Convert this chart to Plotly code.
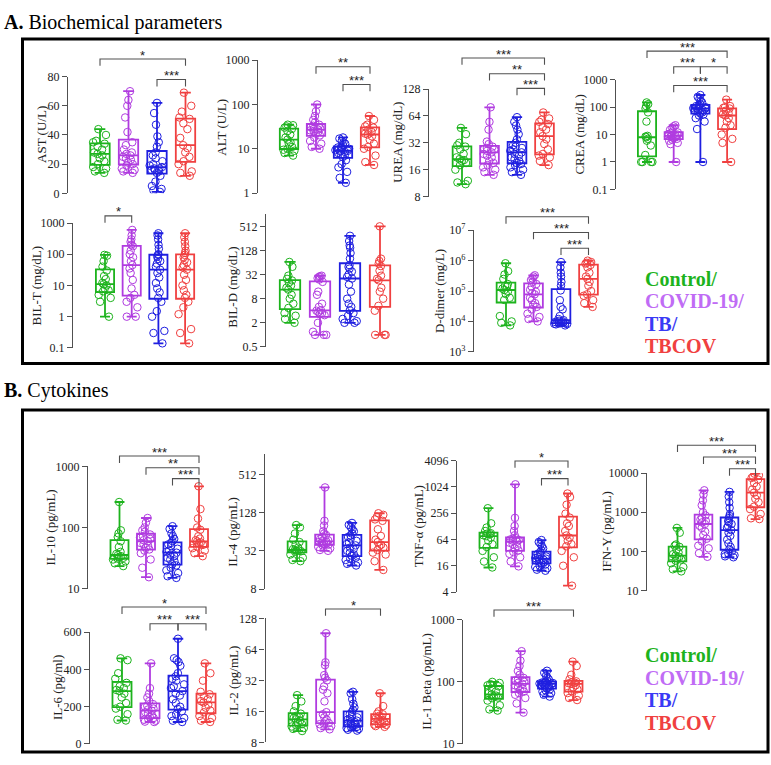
import plotly.graph_objects as go
import math

W, H = 771, 765
GROUPS = ["Control", "COVID-19", "TB", "TBCOV"]
BOX_COLORS = ["#1DB31D", "#B03BE0", "#1F1FE0", "#F04040"]
LEGEND_COLORS = ["#1DB31D", "#C06CF5", "#3A3AF5", "#F04040"]
SERIF = "Liberation Serif"

# ---------------- data ----------------
AST_CONTROL = [14, 15, 17, 18, 20, 22, 24, 26, 27, 28, 30, 32, 34, 35, 36, 40, 44]
AST_COVID = [14, 15, 16, 17, 19, 20, 21, 23, 24, 25, 26, 27, 28, 30, 33, 35, 42, 52, 60, 64, 70]
AST_TB = [1, 2, 3, 5, 8, 12, 14, 15, 16, 16, 17, 17, 18, 19, 20, 22, 24, 26, 28, 32, 35, 39, 47, 55, 62]
AST_TBCOV = [12, 14, 15, 20, 22, 25, 28, 31, 33, 38, 44, 48, 51, 52, 56, 60, 69]

ALT_CONTROL = [7, 8, 9, 9.5, 10, 11, 13, 14, 16, 18, 21, 25, 28, 30, 32, 34, 35]
ALT_COVID = [10, 11, 13, 15, 18, 20, 22, 24, 25, 26, 27, 28, 29, 31, 33, 35, 40, 45, 55, 70, 100]
ALT_TB = [1.7, 2.2, 3, 3.8, 4.5, 5.5, 6.5, 7, 7.5, 8, 8.5, 8.8, 9, 9.3, 9.6, 10, 10.3, 10.7, 11, 12, 13, 14, 15, 17, 18]
ALT_TBCOV = [4.3, 5, 7, 10, 11, 13, 16, 19, 21, 22, 24, 27, 30, 32, 35, 45, 55]

UREA_CONTROL = [11, 11.5, 12, 16, 18, 19, 20, 20.5, 21, 22, 24, 27, 29, 30, 32, 40, 47]
UREA_COVID = [14, 15, 16, 17, 18, 19, 20, 22, 23, 24, 25, 26, 27, 27.5, 28, 29, 31, 33, 45, 55, 80]
UREA_TB = [14, 15, 16, 17, 18, 18.5, 19, 20, 21, 22, 23, 24, 25, 26, 27, 28, 29, 30, 32, 35, 40, 45, 50, 55, 62]
UREA_TBCOV = [18, 20, 22, 23, 24, 27, 31, 35, 38, 42, 45, 48, 52, 55, 58, 60, 70]

CREA_CONTROL = [1, 1, 1, 1, 1.8, 4, 6, 7, 8, 8.5, 9, 30, 65, 90, 110, 130, 150]
CREA_COVID = [1, 4.5, 5, 6, 6.5, 7, 7.5, 8, 8.5, 8.8, 9, 9.5, 10, 10.5, 11, 12, 13, 15, 17, 20, 22]
CREA_TB = [1, 16, 30, 40, 50, 55, 60, 65, 70, 75, 80, 85, 90, 92, 95, 100, 105, 110, 120, 130, 150, 170, 200, 240, 280]
CREA_TBCOV = [1, 5, 7, 10, 18, 22, 30, 40, 50, 55, 60, 75, 90, 95, 100, 110, 190]

BILT_CONTROL = [1, 3, 4, 5, 6.5, 7, 8, 10, 11, 12, 16, 20, 30, 40, 60, 90, 95]
BILT_COVID = [1, 1, 2, 3, 4, 5, 8, 15, 25, 35, 45, 60, 80, 100, 130, 180, 200, 250, 300, 400, 600]
BILT_TB = [0.14, 0.3, 0.35, 1, 1.5, 3, 4, 6, 8, 12, 18, 25, 32, 40, 50, 60, 70, 85, 95, 100, 150, 200, 300, 400, 470]
BILT_TBCOV = [0.14, 0.3, 0.4, 1.2, 2, 3, 4, 5, 7, 10, 15, 22, 32, 38, 45, 55, 65, 80, 95, 110, 130, 180, 250, 350, 470]

BILD_CONTROL = [2, 2.5, 3, 3.5, 4.7, 6, 8, 10, 13.5, 15, 17, 20, 22.8, 25, 30, 50, 66]
BILD_COVID = [1, 1, 1, 1.2, 2, 3.1, 3.3, 3.5, 3.7, 4, 4.1, 5, 6, 10, 12, 21, 24, 26, 28, 29, 30]
BILD_TB = [2, 2, 2.2, 2.5, 3, 3.5, 4.1, 5, 6, 8, 12, 18, 25.5, 28, 32, 38, 45, 50, 55, 80, 110, 150, 170, 220, 297]
BILD_TBCOV = [1, 1, 1, 4, 5.3, 8, 12, 15, 23, 25, 30, 40, 52, 60, 70, 80, 512]

DDIMER_CONTROL = [7400, 9000, 10000, 15000, 51000, 60000, 80000, 95000, 108000, 120000, 140000, 150000, 170000, 250000, 350000, 450000, 820000]
DDIMER_COVID = [10000, 12000, 14000, 18000, 25000, 30000, 35000, 40000, 50000, 60000, 78000, 85000, 95000, 110000, 140000, 170000, 200000, 230000, 260000, 300000, 330000]
DDIMER_TB = [7400, 8000, 8200, 8400, 8600, 8700, 8800, 9000, 9300, 9600, 10000, 10500, 11000, 12000, 15000, 25000, 30000, 50000, 105000, 150000, 200000, 300000, 400000, 600000, 900000]
DDIMER_TBCOV = [30000, 40000, 50000, 70000, 78000, 100000, 150000, 200000, 250000, 300000, 400000, 600000, 720000, 800000, 850000, 900000, 1000000]

IL10_CONTROL = [23.4, 26, 28, 30, 31, 32, 33, 34, 35.5, 37, 40, 48, 59.6, 70, 80, 90, 261]
IL10_COVID = [15.4, 22, 30, 38, 42, 43.8, 47, 50, 53, 56, 59.6, 62, 65, 68, 72, 77, 85, 90, 100, 120, 143]
IL10_TB = [15, 16, 18, 20, 22, 24, 25, 28, 30, 32, 34, 36, 38.8, 40, 42, 45, 50, 53, 56, 60, 65, 72, 80, 95, 105]
IL10_TBCOV = [34, 38, 42, 46, 49, 52, 55, 57, 59, 62, 66, 72, 92, 100, 140, 200, 472]

IL4_CONTROL = [22, 23, 25, 28, 31, 31.5, 32, 32.5, 33, 34, 36, 40, 44, 48, 60, 75, 81.5]
IL4_COVID = [32, 33, 35, 37, 39, 40, 41, 42, 43, 44, 45, 46, 47, 49, 53, 57, 60, 65, 80, 95, 319]
IL4_TB = [18.8, 20, 21, 23, 24, 25, 26.8, 28, 30, 32, 34, 36, 39, 41, 43, 46, 50, 53, 56, 60, 65, 70, 75, 82, 88]
IL4_TBCOV = [16, 22, 28, 30, 33, 36, 38, 40, 44, 48, 55, 70, 95, 100, 110, 118, 125]

TNF_CONTROL = [14.6, 20, 25, 35, 43, 50, 60, 70, 76, 80, 84, 87, 89, 100, 120, 150, 333]
TNF_COVID = [15.5, 20, 25, 30, 33, 36, 40, 45, 50, 54, 57, 60, 62, 64, 66, 68, 80, 100, 130, 200, 1176]
TNF_TB = [12.3, 13, 14, 15, 16, 17, 18.4, 19, 20, 21, 22, 22.5, 23.3, 24, 25, 26, 28, 30, 33, 36, 40, 45, 50, 56, 62]
TNF_TBCOV = [5.6, 16, 25, 35, 44.8, 50, 60, 70, 79, 100, 130, 150, 203, 250, 400, 600, 724]

IFN_CONTROL = [31, 35, 40, 50, 58, 62, 68, 72, 78, 85, 95, 110, 131, 140, 150, 300, 398]
IFN_COVID = [73, 90, 120, 140, 180, 211, 260, 320, 400, 450, 500, 550, 600, 650, 720, 826, 1000, 1500, 2000, 2800, 3620]
IFN_TB = [71, 75, 80, 85, 90, 100, 114, 130, 160, 200, 250, 300, 348, 400, 450, 500, 550, 600, 710, 800, 900, 1300, 1800, 2500, 3300]
IFN_TBCOV = [668, 700, 900, 1200, 1385, 1800, 2200, 2700, 3160, 3800, 4500, 5500, 6800, 7500, 8000, 8800, 9600]

IL6_CONTROL = [126, 130, 160, 190, 200, 220, 250, 270, 284, 290, 300, 310, 328, 350, 380, 450, 460]
IL6_COVID = [118, 120, 125, 130, 135, 140, 145, 155, 165, 170, 179, 185, 190, 200, 205, 214, 230, 250, 270, 300, 433]
IL6_TB = [118, 125, 140, 150, 160, 175, 188, 200, 220, 240, 260, 270, 284, 300, 310, 320, 340, 350, 363, 380, 420, 440, 450, 460, 565]
IL6_TBCOV = [118, 125, 140, 150, 170, 180, 195, 210, 223, 230, 240, 255, 267, 280, 340, 380, 433]

IL2_CONTROL = [10.3, 10.8, 11, 11.4, 11.7, 12, 12.5, 13, 13.4, 13.8, 14, 14.5, 15.2, 16, 18, 20, 23]
IL2_COVID = [10.7, 11, 11.5, 12, 12.2, 12.3, 12.8, 13.3, 14, 15, 15.7, 20, 24, 26, 28, 32, 34, 36, 45, 48, 92]
IL2_TB = [10.4, 10.6, 10.8, 11, 11.2, 11.3, 11.5, 11.8, 12, 12.3, 12.6, 12.8, 13, 13.3, 13.6, 14, 14.5, 15, 15.8, 16.5, 17.5, 19, 21, 24, 24.8]
IL2_TBCOV = [11.3, 11.5, 11.8, 11.9, 12, 12.5, 12.8, 13.2, 13.5, 13.8, 14, 14.5, 15, 15.2, 16, 18, 24]

IL1B_CONTROL = [34.5, 36, 42, 50, 54.6, 56, 58, 60, 63, 66, 70, 78, 85, 88, 92, 96, 100]
IL1B_COVID = [32, 45, 55, 62, 66, 69.5, 73, 78, 83, 88, 93, 97, 100, 105, 110, 116, 130, 150, 180, 220, 312]
IL1B_TB = [58, 62, 66, 70, 73, 76, 78.5, 81, 84, 86, 88, 90, 93, 94, 95, 96, 97, 98, 100, 105, 110, 118, 125, 140, 151]
IL1B_TBCOV = [51, 55, 60, 66, 71, 76, 82, 88, 93, 95, 97, 99, 102, 110, 130, 180, 212]

# tick values / labels
TICKS_AST = [0, 20, 40, 60, 80]
TICKS_DEC_1_1000 = [1, 10, 100, 1000]
TICKS_UREA = [8, 16, 32, 64, 128]
TICKS_DEC_01_1000 = [0.1, 1, 10, 100, 1000]
TICKTEXT_DEC_01_1000 = ["0.1", "1", "10", "100", "1000"]
TICKS_BILD = [0.5, 2, 8, 32, 128, 512]
TICKTEXT_BILD = ["0.5", "2", "8", "32", "128", "512"]
TICKS_DDIMER = [1e3, 1e4, 1e5, 1e6, 1e7]
TICKTEXT_DDIMER = ["10<sup>3</sup>", "10<sup>4</sup>", "10<sup>5</sup>", "10<sup>6</sup>", "10<sup>7</sup>"]
TICKS_DEC_10_1000 = [10, 100, 1000]
TICKS_IL4 = [8, 32, 128, 512]
TICKS_TNF = [4, 16, 64, 256, 1024, 4096]
TICKS_IFN = [10, 100, 1000, 10000]
TICKS_IL6 = [0, 200, 400, 600]
TICKS_IL2 = [8, 16, 32, 64, 128]

# ---------------- panel layout (pixels) ----------------
PANELS = [
    dict(d=[AST_CONTROL, AST_COVID, AST_TB, AST_TBCOV], t="AST (U/L)", log=False, tv=TICKS_AST,
         r1=(70, 80), r2=(189, 0), top=70, bot=189, ax=68, b0=100, dx=28.5, lx=42,
         br=[(0, 3, "*", 52), (2, 3, "***", 73)]),
    dict(d=[ALT_CONTROL, ALT_COVID, ALT_TB, ALT_TBCOV], t="ALT (U/L)", log=True, tv=TICKS_DEC_1_1000,
         r1=(53.3, 1000), r2=(188.7, 1), top=53.3, bot=188.7, ax=258, b0=289, dx=27, lx=222,
         br=[(1, 3, "**", 60), (2, 3, "***", 78)]),
    dict(d=[UREA_CONTROL, UREA_COVID, UREA_TB, UREA_TBCOV], t="UREA (mg/dL)", log=True, tv=TICKS_UREA,
         r1=(82.7, 128), r2=(192.3, 8), top=82.7, bot=192.3, ax=429, b0=462, dx=27.5, lx=398,
         br=[(0, 3, "***", 51), (1, 3, "**", 67), (2, 3, "***", 82)]),
    dict(d=[CREA_CONTROL, CREA_COVID, CREA_TB, CREA_TBCOV], t="CREA (mg/dL)", log=True, tv=TICKS_DEC_01_1000,
         tt=TICKTEXT_DEC_01_1000,
         r1=(73.3, 1000), r2=(185, 0.1), top=73.3, bot=185, ax=616, b0=647, dx=26.7, lx=580,
         br=[(0, 3, "***", 44), (1, 2, "***", 60), (2, 3, "*", 60), (1, 3, "***", 79)]),
    dict(d=[BILT_CONTROL, BILT_COVID, BILT_TB, BILT_TBCOV], t="BIL-T (mg/dL)", log=True, tv=TICKS_DEC_01_1000,
         tt=TICKTEXT_DEC_01_1000,
         r1=(219.3, 1000), r2=(346.7, 0.1), top=219.3, bot=346.7, ax=73, b0=105, dx=26.7, lx=36,
         br=[(0, 1, "*", 212)]),
    dict(d=[BILD_CONTROL, BILD_COVID, BILD_TB, BILD_TBCOV], t="BIL-D (mg/dL)", log=True, tv=TICKS_BILD,
         tt=TICKTEXT_BILD,
         r1=(222.7, 512), r2=(345.7, 0.5), top=210, bot=345.7, ax=266, b0=290, dx=30, lx=233,
         br=[]),
    dict(d=[DDIMER_CONTROL, DDIMER_COVID, DDIMER_TB, DDIMER_TBCOV], t="D-dimer (mg/L)", log=True, tv=TICKS_DDIMER,
         tt=TICKTEXT_DDIMER,
         r1=(226.7, 1e7), r2=(350.7, 1e3), top=226.7, bot=350.7, ax=474, b0=506, dx=27.5, lx=439,
         br=[(0, 3, "***", 213), (1, 3, "***", 229), (2, 3, "***", 245)]),
    dict(d=[IL10_CONTROL, IL10_COVID, IL10_TB, IL10_TBCOV], t="IL-10 (pg/mL)", log=True, tv=TICKS_DEC_10_1000,
         r1=(467.5, 1000), r2=(592.3, 10), top=467.5, bot=592.3, ax=88, b0=119.5, dx=26.5, lx=51,
         br=[(0, 3, "***", 457), (1, 3, "**", 469), (2, 3, "***", 480)]),
    dict(d=[IL4_CONTROL, IL4_COVID, IL4_TB, IL4_TBCOV], t="IL-4 (pg/mL)", log=True, tv=TICKS_IL4,
         r1=(475.7, 512), r2=(592.7, 8), top=455, bot=592.7, ax=265, b0=297, dx=27.5, lx=233,
         br=[]),
    dict(d=[TNF_CONTROL, TNF_COVID, TNF_TB, TNF_TBCOV], t="TNF-α (pg/mL)", log=True, tv=TICKS_TNF,
         r1=(461.7, 4096), r2=(595.7, 4), top=461.7, bot=595.7, ax=457, b0=488.5, dx=26.5, lx=418,
         br=[(1, 3, "*", 462), (2, 3, "***", 480)]),
    dict(d=[IFN_CONTROL, IFN_COVID, IFN_TB, IFN_TBCOV], t="IFN-Y (pg/mL)", log=True, tv=TICKS_IFN,
         r1=(474.3, 10000), r2=(594.3, 10), top=474.3, bot=594.3, ax=647, b0=677.5, dx=26, lx=607,
         br=[(0, 3, "***", 446), (1, 3, "***", 458), (2, 3, "***", 470)]),
    dict(d=[IL6_CONTROL, IL6_COVID, IL6_TB, IL6_TBCOV], t="IL-6 (pg/ml)", log=False, tv=TICKS_IL6,
         r1=(636.7, 600), r2=(750.7, 0), top=636.7, bot=750.7, ax=90, b0=122, dx=28, lx=57,
         br=[(0, 3, "*", 611), (1, 2, "***", 628), (2, 3, "***", 628)]),
    dict(d=[IL2_CONTROL, IL2_COVID, IL2_TB, IL2_TBCOV], t="IL-2 (pg/mL)", log=True, tv=TICKS_IL2,
         r1=(622.7, 128), r2=(749, 8), top=622.7, bot=749, ax=265.5, b0=298, dx=27.5, lx=233,
         br=[(1, 3, "*", 613)]),
    dict(d=[IL1B_CONTROL, IL1B_COVID, IL1B_TB, IL1B_TBCOV], t="IL-1 Beta (pg/mL)", log=True, tv=TICKS_DEC_10_1000,
         r1=(624, 1000), r2=(750.7, 10), top=624, bot=750.7, ax=463, b0=494, dx=26.5, lx=427,
         br=[(0, 3, "***", 614)]),
]

fig = go.Figure()
shapes, annos = [], []
layout = {}


def px(x):
    return x / W


def py(y):
    return 1 - y / H


for k, p in enumerate(PANELS, start=1):
    xa, ya = ("x" if k == 1 else f"x{k}"), ("y" if k == 1 else f"y{k}")
    f = math.log10 if p["log"] else (lambda v: v)
    (p1, v1), (p2, v2) = p["r1"], p["r2"]
    t1, t2 = f(v1), f(v2)
    tat = lambda pix: t1 + (pix - p1) * (t2 - t1) / (p2 - p1)
    yr = [tat(p["bot"]), tat(p["top"])]
    right = min(p["b0"] + 3.8 * p["dx"], W - 2)
    xr = [(p["ax"] - p["b0"]) / p["dx"], (right - p["b0"]) / p["dx"]]
    layout["xaxis" if k == 1 else f"xaxis{k}"] = dict(
        domain=[px(p["ax"]), px(right)], range=xr, type="linear", visible=False,
        anchor=ya, fixedrange=True)
    layout["yaxis" if k == 1 else f"yaxis{k}"] = dict(
        domain=[py(p["bot"]), py(p["top"])], range=yr, type="log" if p["log"] else "linear",
        anchor=xa, showgrid=False, zeroline=False, showline=True, linecolor="#505050", linewidth=1.3,
        ticks="outside", ticklen=5, tickwidth=1.3, tickcolor="#505050",
        tickvals=p["tv"], ticktext=p.get("tt", [str(v) for v in p["tv"]]),
        tickfont=dict(family=SERIF, size=12, color="#222"))
    for i, (vals, col) in enumerate(zip(p["d"], BOX_COLORS)):
        fig.add_trace(go.Box(y=vals, x0=i, xaxis=xa, yaxis=ya, width=0.68, boxpoints=False,
                             line=dict(color=col, width=1.8), fillcolor="rgba(0,0,0,0)",
                             whiskerwidth=0.55, name=GROUPS[i], hoverinfo="skip"))
        fig.add_trace(go.Box(y=vals, x0=i, xaxis=xa, yaxis=ya, width=0.68, boxpoints="all",
                             jitter=0.85, pointpos=0, line=dict(color=col, width=0),
                             fillcolor="rgba(0,0,0,0)", name=GROUPS[i],
                             marker=dict(symbol="circle-open", size=7.5, color=col,
                                         line=dict(width=1, color=col))))
    annos.append(dict(x=px(p["lx"]), y=py((p["r1"][0] + p["r2"][0]) / 2), xref="paper", yref="paper",
                      text=p["t"], textangle=-90, showarrow=False, xanchor="center", yanchor="middle",
                      font=dict(family=SERIF, size=13, color="#222")))
    for (a, b, stars, yb) in p["br"]:
        xa_px = p["b0"] + a * p["dx"]
        xb_px = p["b0"] + b * p["dx"]
        shapes.append(dict(type="path", xref="paper", yref="paper",
                           path=f"M {px(xa_px)},{py(yb + 7)} L {px(xa_px)},{py(yb)} L {px(xb_px)},{py(yb)} L {px(xb_px)},{py(yb + 7)}",
                           line=dict(color="#505050", width=1.1)))
        annos.append(dict(x=px((xa_px + xb_px) / 2), y=py(yb - 4), xref="paper", yref="paper",
                          text=stars, showarrow=False, xanchor="center", yanchor="middle",
                          font=dict(family="Liberation Sans", size=13, color="#222")))

# section frames
for (y0, y1) in [(31.5, 362.5), (410, 759)]:
    shapes.append(dict(type="rect", xref="paper", yref="paper", x0=px(22.5), x1=px(768), y0=py(y1), y1=py(y0),
                       line=dict(color="black", width=3), fillcolor="rgba(0,0,0,0)", layer="below"))

# section titles
annos.append(dict(x=px(2), y=py(15), xref="paper", yref="paper", text="<b>A.</b> Biochemical parameters",
                  showarrow=False, xanchor="left", yanchor="middle", font=dict(family=SERIF, size=20, color="black")))
annos.append(dict(x=px(2), y=py(390), xref="paper", yref="paper", text="<b>B.</b> Cytokines",
                  showarrow=False, xanchor="left", yanchor="middle", font=dict(family=SERIF, size=20, color="black")))

LEGEND_LABELS = ["Control/", "COVID-19/", "TB/", "TBCOV"]
for top in (276, 660):
    for i, (lab, col) in enumerate(zip(LEGEND_LABELS, LEGEND_COLORS)):
        annos.append(dict(x=px(643), y=py(top + 23 * i), xref="paper", yref="paper", text=f"<b>{lab}</b>",
                          showarrow=False, xanchor="left", yanchor="middle",
                          font=dict(family=SERIF, size=20, color=col)))

fig.update_layout(width=W, height=H, margin=dict(l=0, r=0, t=0, b=0), showlegend=False,
                  paper_bgcolor="white", plot_bgcolor="rgba(0,0,0,0)", boxmode="overlay",
                  shapes=shapes, annotations=annos, **layout)
fig.write_html("out.html")
